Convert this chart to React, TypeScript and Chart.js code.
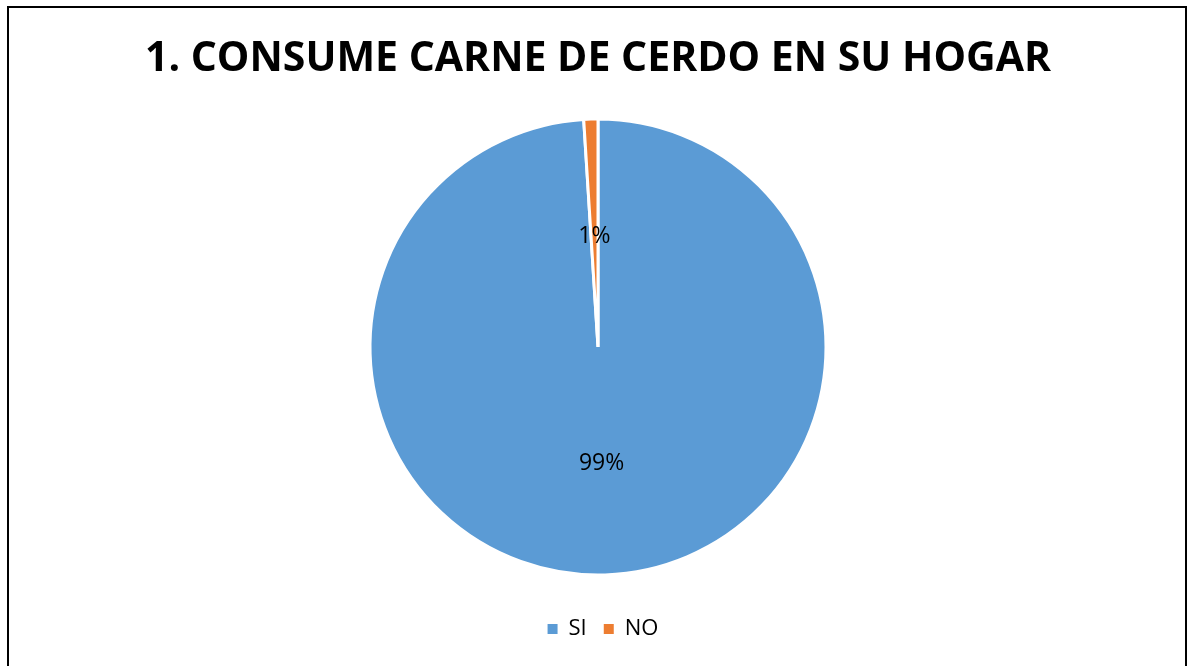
import React, { useEffect, useRef } from "react";
import { Chart, registerables } from "chart.js";

Chart.register(...registerables);

const titleText = "1. CONSUME CARNE DE CERDO EN SU HOGAR";
const categories = ["SI", "NO"];
const percentValues = [99, 1];
const sliceColors = ["#5B9BD5", "#ED7D31"];

const dataLabelPlugin = {
  id: "sliceLabels",
  afterDatasetsDraw(chart: any) {
    const ctx = chart.ctx;
    const meta = chart.getDatasetMeta(0);
    ctx.save();
    ctx.font = "23px 'Open Sans'";
    ctx.fillStyle = "#000000";
    ctx.textAlign = "center";
    ctx.textBaseline = "middle";
    meta.data.forEach((arc: any, i: number) => {
      const p = arc.getCenterPoint();
      ctx.fillText(percentValues[i] + "%", p.x, p.y + 3);
    });
    ctx.restore();
  },
};

const legendShiftPlugin = {
  id: "legendShift",
  afterLayout(chart: any) {
    if (chart.legend) {
      chart.legend.left += 5;
      chart.legend.right += 5;
    }
  },
};

export default function App() {
  const canvasRef = useRef<HTMLCanvasElement | null>(null);

  useEffect(() => {
    if (!canvasRef.current) return;
    const chart = new Chart(canvasRef.current, {
      type: "pie",
      data: {
        labels: categories,
        datasets: [
          {
            data: percentValues,
            backgroundColor: sliceColors,
            borderColor: "#FFFFFF",
            borderWidth: 3,
            radius: 228,
          } as any,
        ],
      },
      options: {
        responsive: false,
        animation: false,
        layout: { padding: { top: 0, left: 8, right: 0, bottom: 16 } },
        plugins: {
          tooltip: { enabled: false },
          title: {
            display: true,
            text: titleText,
            color: "#000000",
            font: { family: "'Open Sans'", size: 41, weight: "bold" },
            padding: { top: 34.4, bottom: 9.4 },
          },
          legend: {
            display: true,
            position: "bottom",
            labels: {
              color: "#000000",
              font: { family: "'Open Sans'", size: 22 },
              boxWidth: 10,
              boxHeight: 10,
              padding: 17,
              generateLabels: (c: any) =>
                (Chart as any).overrides.pie.plugins.legend.labels
                  .generateLabels(c)
                  .map((l: any) => ({ ...l, lineWidth: 0 })),
            },
          },
        },
      },
      plugins: [dataLabelPlugin, legendShiftPlugin],
    });
    return () => chart.destroy();
  }, []);

  return (
    <div
      style={{
        position: "fixed",
        left: 0,
        top: 0,
        width: 1188,
        height: 666,
        background: "#FFFFFF",
        overflow: "hidden",
      }}
    >
      <canvas
        ref={canvasRef}
        width={1188}
        height={666}
        style={{ position: "absolute", left: 0, top: 0 }}
      />
      <div
        style={{
          position: "absolute",
          left: 7,
          top: 6,
          width: 1180,
          height: 700,
          boxSizing: "border-box",
          border: "2px solid #000000",
          pointerEvents: "none",
        }}
      />
    </div>
  );
}
